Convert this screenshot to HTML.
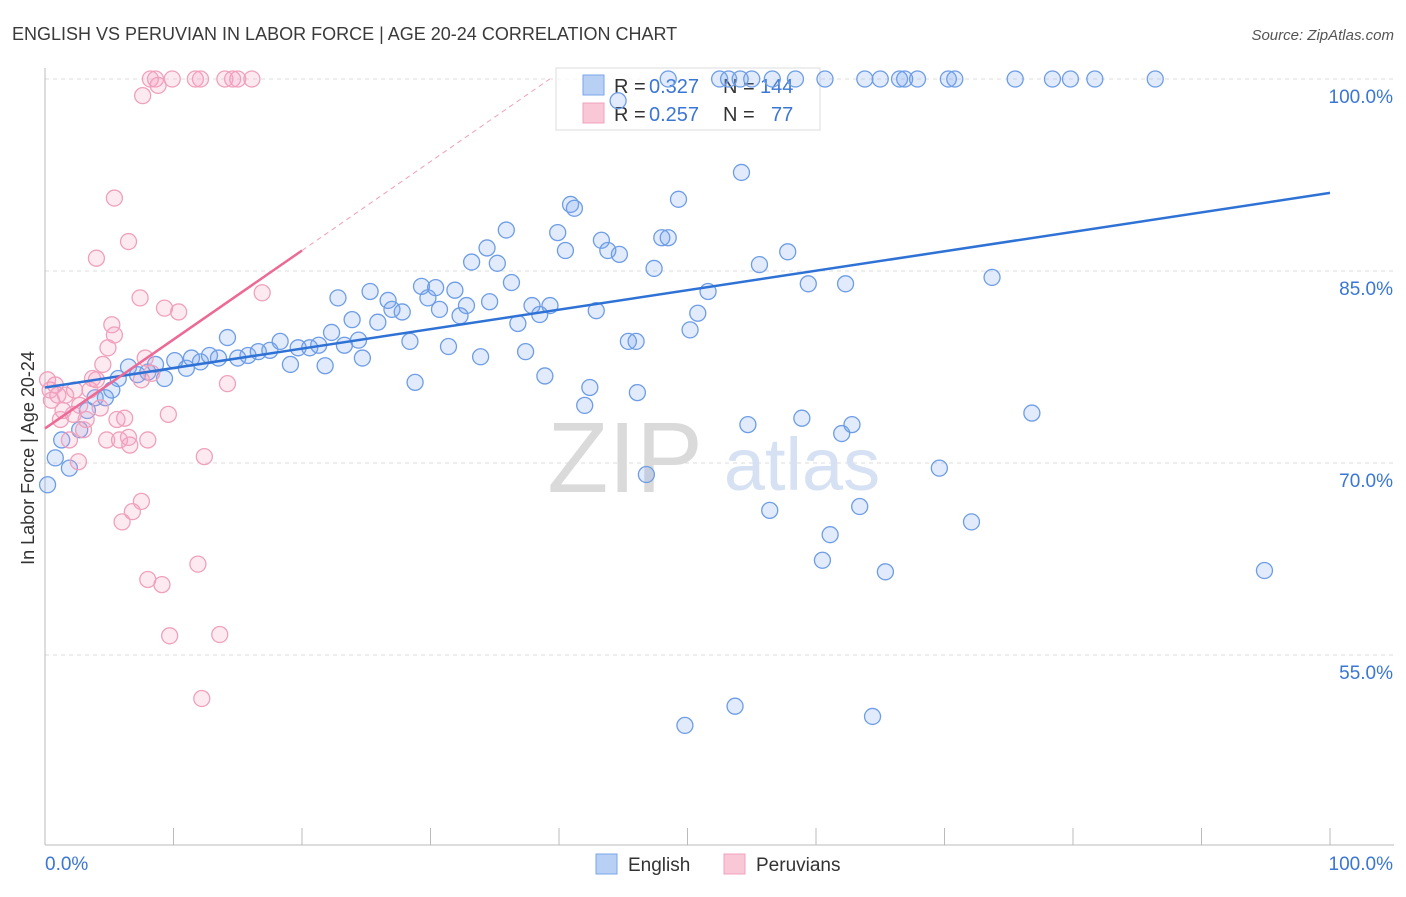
<!DOCTYPE html>
<html><head><meta charset="utf-8"><style>
body{margin:0;background:#fff;font-family:"Liberation Sans",sans-serif;}
svg text{font-family:"Liberation Sans",sans-serif;}
</style></head><body>
<svg id="chart" width="1406" height="892">
<text x="12" y="40" font-size="18" fill="#3a3a3a">ENGLISH VS PERUVIAN IN LABOR FORCE | AGE 20-24 CORRELATION CHART</text>
<text x="1394" y="40" font-size="15" fill="#555" font-style="italic" text-anchor="end">Source: ZipAtlas.com</text>
<text x="0" y="0" transform="translate(34,458) rotate(-90)" font-size="18" fill="#333" text-anchor="middle">In Labor Force | Age 20-24</text>
<g id="grid"></g>
<g id="axes"></g>
<text x="625" y="492" font-size="100" fill="#dadada" font-family="Liberation Serif" text-anchor="middle">ZIP</text>
<text x="802" y="490" font-size="74" fill="#d6e2f3" text-anchor="middle">atlas</text>
<g>
<rect x="556" y="68" width="264" height="62" fill="#fff" fill-opacity="0.7" stroke="#ddd"/>
<rect x="583" y="75" width="21" height="20" fill="#b8d0f4" stroke="#7aa6e8"/>
<rect x="583" y="103" width="21" height="20" fill="#f9c8d7" stroke="#f0a0bc"/>
<text y="93" font-size="20" fill="#333"><tspan x="614">R =</tspan><tspan x="649" fill="#3a76d4">0.327</tspan><tspan x="723">N =</tspan><tspan x="760" fill="#3a76d4">144</tspan></text>
<text y="121" font-size="20" fill="#333"><tspan x="614">R =</tspan><tspan x="649" fill="#3a76d4">0.257</tspan><tspan x="723">N =</tspan><tspan x="771" fill="#3a76d4">77</tspan></text>
</g>
<g id="marks"></g>
<g>
<rect x="596" y="854" width="21" height="20" fill="#b8d0f4" stroke="#7aa6e8"/>
<text x="628" y="871" font-size="19" fill="#333">English</text>
<rect x="724" y="854" width="21" height="20" fill="#f9c8d7" stroke="#f0a0bc"/>
<text x="756" y="871" font-size="19" fill="#333">Peruvians</text>
</g>
</svg>
<script>
const yTicks=[100,85,70,55];
const yTickLabels=["100.0%","85.0%","70.0%","55.0%"];
const xTickLabels=["0.0%","100.0%"];
const englishX=[0.2,0.8,1.3,1.9,2.7,3.3,3.9,4.7,5.2,5.7,6.5,7.2,8.0,8.6,9.3,10.1,11.0,11.4,12.1,12.8,13.5,14.2,15.0,15.8,16.6,17.5,18.3,19.1,19.7,20.6,21.3,21.8,22.3,22.8,23.3,23.9,24.4,24.7,25.3,25.9,26.7,27.0,27.8,28.4,28.8,29.3,29.8,30.4,30.7,31.4,31.9,32.3,32.8,33.2,33.9,34.4,34.6,35.2,35.9,36.3,36.8,37.4,37.9,38.5,38.9,39.3,39.9,40.5,40.9,41.2,42.0,42.4,42.9,43.3,43.8,44.6,44.7,45.4,46.0,46.1,46.8,47.4,48.0,48.5,49.3,50.2,50.8,51.6,54.2,54.7,55.6,56.4,57.8,58.9,59.4,60.5,61.1,62.0,62.3,62.8,63.4,65.4,69.6,72.1,73.7,76.8,94.9,49.8,53.7,64.4,48.5,52.5,53.2,55.0,56.6,58.4,60.7,63.8,65.0,66.5,66.9,67.9,70.3,70.8,75.5,78.4,79.8,81.7,86.4,54.1];
const englishY=[68.3,70.4,71.8,69.6,72.6,74.1,75.1,75.1,75.7,76.6,77.5,76.9,77.1,77.7,76.6,78.0,77.4,78.2,77.9,78.4,78.2,79.8,78.2,78.4,78.7,78.8,79.5,77.7,79.0,79.0,79.2,77.6,80.2,82.9,79.2,81.2,79.6,78.2,83.4,81.0,82.7,82.0,81.8,79.5,76.3,83.8,82.9,83.7,82.0,79.1,83.5,81.5,82.3,85.7,78.3,86.8,82.6,85.6,88.2,84.1,80.9,78.7,82.3,81.6,76.8,82.3,88.0,86.6,90.2,89.9,74.5,75.9,81.9,87.4,86.6,98.3,86.3,79.5,79.5,75.5,69.1,85.2,87.6,87.6,90.6,80.4,81.7,83.4,92.7,73.0,85.5,66.3,86.5,73.5,84.0,62.4,64.4,72.3,84.0,73.0,66.6,61.5,69.6,65.4,84.5,73.9,61.6,49.5,51.0,50.2,100,100,100,100,100,100,100,100,100,100,100,100,100,100,100,100,100,100,100,100];
const peruX=[0.2,0.4,0.5,0.8,1.0,1.2,1.4,1.6,1.9,2.2,2.3,2.6,2.7,3.0,3.2,3.5,3.7,4.0,4.3,4.5,4.8,4.9,5.2,5.4,5.4,5.6,5.8,6.0,6.2,6.5,6.5,6.6,6.8,7.4,7.5,7.5,7.8,8.0,8.0,8.2,8.3,8.6,8.8,9.1,9.3,9.6,9.7,9.9,10.4,11.7,11.9,12.1,12.2,12.4,13.6,14.0,14.2,14.6,15.0,16.1,16.9,7.6,4.0];
const peruY=[76.5,75.7,74.9,76.1,75.3,73.4,74.1,75.3,71.8,73.8,75.7,70.1,74.5,72.6,73.4,75.7,76.6,76.5,74.3,77.7,71.8,79.0,80.8,80.0,90.7,73.4,71.8,65.4,73.5,87.3,72.0,71.4,66.2,82.9,67.0,76.5,78.2,60.9,71.8,100,77.0,100,99.5,60.5,82.1,73.8,56.5,100,81.8,100,62.1,100,51.6,70.5,56.6,100,76.2,100,100,100,83.3,98.7,86.0];
const englishTrend=[75.9,0.152];
const peruTrend=[72.7,0.695];

const NS="http://www.w3.org/2000/svg";
const X=v=>45+v*12.85;
const Y=v=>79+(100-v)*12.8;
function mk(t,a,p){const e=document.createElementNS(NS,t);for(const k in a)e.setAttribute(k,a[k]);p.appendChild(e);return e;}
const grid=document.getElementById('grid'),axes=document.getElementById('axes'),marks=document.getElementById('marks');
yTicks.forEach((t,i)=>{
 const l=mk('line',{x1:45,x2:1394,y1:Y(t),y2:Y(t),stroke:'#ddd','stroke-dasharray':'4,4'},grid);
 
 
 const tx=mk('text',{x:1393,y:Y(t)+24,'font-size':19,fill:'#3a76d4','text-anchor':'end'},axes);
 tx.textContent=yTickLabels[i];
 
 
});
mk('line',{x1:45,x2:45,y1:68,y2:845,stroke:'#bbb'},axes);
mk('line',{x1:45,x2:1394,y1:845,y2:845,stroke:'#bbb'},axes);
for(let i=0;i<=10;i++){mk('line',{x1:X(i*10),x2:X(i*10),y1:828,y2:845,stroke:'#bbb'},axes);}
[[0,'start'],[100,'end']].forEach((p,i)=>{
 const tx=mk('text',{x:i?1393:45,y:870,'font-size':19,fill:'#3a76d4','text-anchor':p[1]},axes);
 tx.textContent=xTickLabels[i];
 
 
});
englishX.forEach((v,i)=>{
 const c=mk('circle',{cx:X(v),cy:Y(englishY[i]),r:8,fill:'rgba(120,165,235,0.22)',stroke:'#6d9de6','stroke-width':1.3},marks);
 
 
});
peruX.forEach((v,i)=>{
 const c=mk('circle',{cx:X(v),cy:Y(peruY[i]),r:8,fill:'rgba(245,160,190,0.22)',stroke:'#f0a0bc','stroke-width':1.3},marks);
 
 
});
const bl=mk('line',{x1:X(0),y1:Y(englishTrend[0]),x2:X(100),y2:Y(englishTrend[0]+100*englishTrend[1]),stroke:'#2f72d6','stroke-width':2.5},marks);


const xEnd=(100-peruTrend[0])/peruTrend[1];
const pd=mk('line',{x1:X(20),y1:Y(peruTrend[0]+20*peruTrend[1]),x2:X(xEnd),y2:Y(100),stroke:'#f0a0bc','stroke-width':1,'stroke-dasharray':'5,4'},marks);


const pl=mk('line',{x1:X(0),y1:Y(peruTrend[0]),x2:X(20),y2:Y(peruTrend[0]+20*peruTrend[1]),stroke:'#ec6a95','stroke-width':2.5},marks);


</script>
</body></html>
